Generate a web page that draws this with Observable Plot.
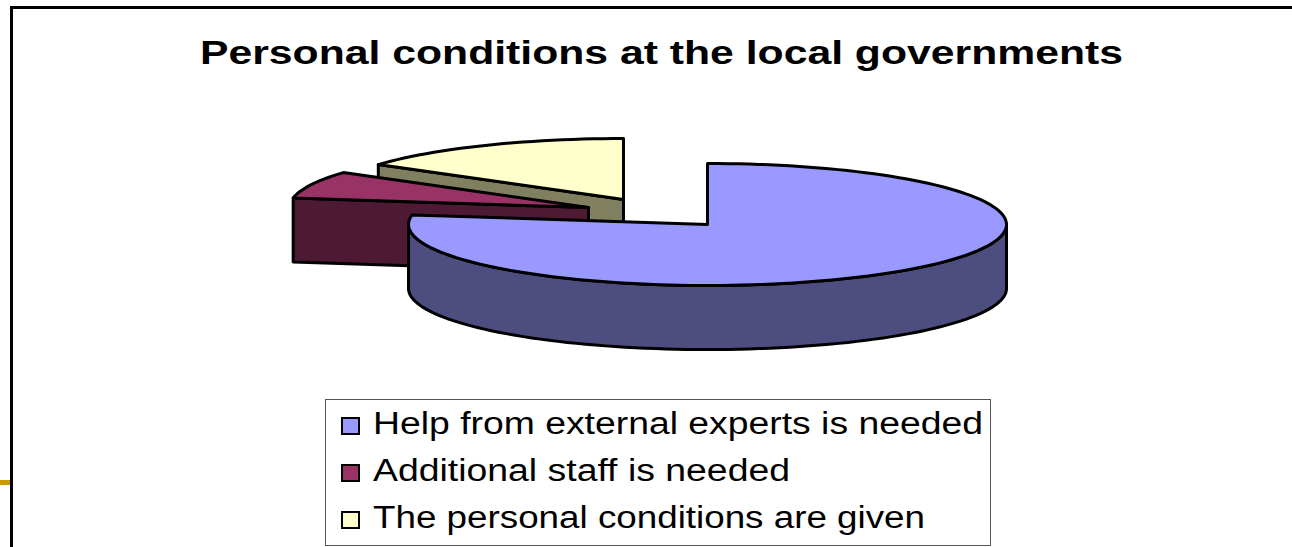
<!DOCTYPE html>
<html>
<head>
<meta charset="utf-8">
<script src="https://cdn.jsdelivr.net/npm/d3@7"></script>
<script src="https://cdn.jsdelivr.net/npm/@observablehq/plot@0.6"></script>
<style>
html,body{margin:0;padding:0;background:#fff;overflow:hidden}
#page{position:relative;width:1292px;height:547px;font-family:"Liberation Sans",Arial,sans-serif;color:#000;overflow:hidden}
#page svg{position:absolute;left:0;top:0;display:block;background:transparent}
.fit{position:absolute;white-space:nowrap;transform-origin:0 0;line-height:1}
#frameTop{position:absolute;left:10px;right:0;top:6px;height:2.6px;background:#000}
#frameLeft{position:absolute;left:10px;top:6px;bottom:0;width:3px;background:#000}
#goldRule{position:absolute;left:0;top:480px;width:10px;height:5px;background:#cc9900}
#legend{position:absolute;left:325px;top:399px;width:664px;height:145px;border:1px solid #555;background:#fff;box-sizing:content-box}
.sw{position:absolute;width:15px;height:14px;border:2px solid #000;box-sizing:content-box;left:15px}
</style>
</head>
<body>
<div id="page">
  <div id="frameTop"></div><div id="frameLeft"></div><div id="goldRule"></div>
</div>
<script>
// Data
const categories = ["Help from external experts is needed","Additional staff is needed","The personal conditions are given"];
const shares = [77.5, 7.2, 15.3];
const topColors = ["#9999ff","#993366","#ffffcc"];
const sideColors = ["#4d4d80","#4d1933","#808060"];
const titleText = "Personal conditions at the local governments";

// Pie layout, in units of the pie radius
const explode = [[0,0],[-0.398,-0.279],[-0.281,-0.41]];
const depth = 1.05;

// Slice angles, clockwise from twelve o'clock
let running = 0;
const total = d3.sum(shares);
const slices = shares.map((v,i)=>{
  const a0 = running/total*360; running += v; const a1 = running/total*360;
  return {a0,a1,dx:explode[i][0],dy:explode[i][1],top:topColors[i],side:sideColors[i]};
});
const pt = (s,deg,drop=0)=>{const r=deg*Math.PI/180;return {x:s.dx+Math.sin(r),y:s.dy-Math.cos(r)+drop};};
const arc = (s,a,b,drop=0)=>{const out=[];const n=Math.max(2,Math.ceil(Math.abs(b-a)/2));
  for(let i=0;i<=n;i++)out.push(pt(s,a+(b-a)*i/n,drop));return out;};
const apex = (s,drop=0)=>({x:s.dx,y:s.dy+drop});
const topFace = s=>[apex(s),...arc(s,s.a0,s.a1)];

const [blue,maroon,yellow] = slices;
// Faces in painter's order, back to front
const faces = [
  {pts:[apex(yellow),pt(yellow,yellow.a0),pt(yellow,yellow.a0,depth),apex(yellow,depth)],fill:yellow.side},
  {pts:topFace(yellow),fill:yellow.top},
  {pts:[apex(maroon),pt(maroon,maroon.a0),pt(maroon,maroon.a0,depth),apex(maroon,depth)],fill:maroon.side},
  {pts:topFace(maroon),fill:maroon.top},
  {pts:[...arc(blue,90,270),...arc(blue,270,90,depth)],fill:blue.side},
  {pts:topFace(blue),fill:blue.top}
];

const chart = Plot.plot({
  width:1292,height:547,margin:0,
  x:{domain:[-707/299,(1292-707)/299],range:[0,1292],axis:null},
  y:{domain:[-224/61,(547-224)/61],range:[0,547],axis:null},
  marks:faces.map(f=>Plot.line(f.pts,{x:"x",y:"y",fill:f.fill,stroke:"#000",strokeWidth:3,strokeLinejoin:"round",curve:"linear-closed"}))
});
const page = document.getElementById("page");
page.appendChild(chart);

// Title and legend
function fit(el,left,top,target){
  el.style.left=left+"px";el.style.top=top+"px";
  const w=el.getBoundingClientRect().width;
  el.style.transform=`scaleX(${target/w})`;
}
const title=document.createElement("div");
title.className="fit";title.textContent=titleText;
title.style.font='bold 34px "Liberation Sans",Arial,sans-serif';
page.appendChild(title);
fit(title,200,33,923);

const legend=document.createElement("div");legend.id="legend";page.appendChild(legend);
const legendWidths=[610,417,552], legendTops=[6,53,100];
categories.forEach((c,i)=>{
  const sw=document.createElement("div");sw.className="sw";
  sw.style.top=(legendTops[i]+11)+"px";sw.style.background=topColors[i];legend.appendChild(sw);
  const t=document.createElement("div");t.className="fit";t.textContent=c;
  t.style.font='31px "Liberation Sans",Arial,sans-serif';
  legend.appendChild(t);
  fit(t,47,legendTops[i],legendWidths[i]);
});
</script>
</body>
</html>
